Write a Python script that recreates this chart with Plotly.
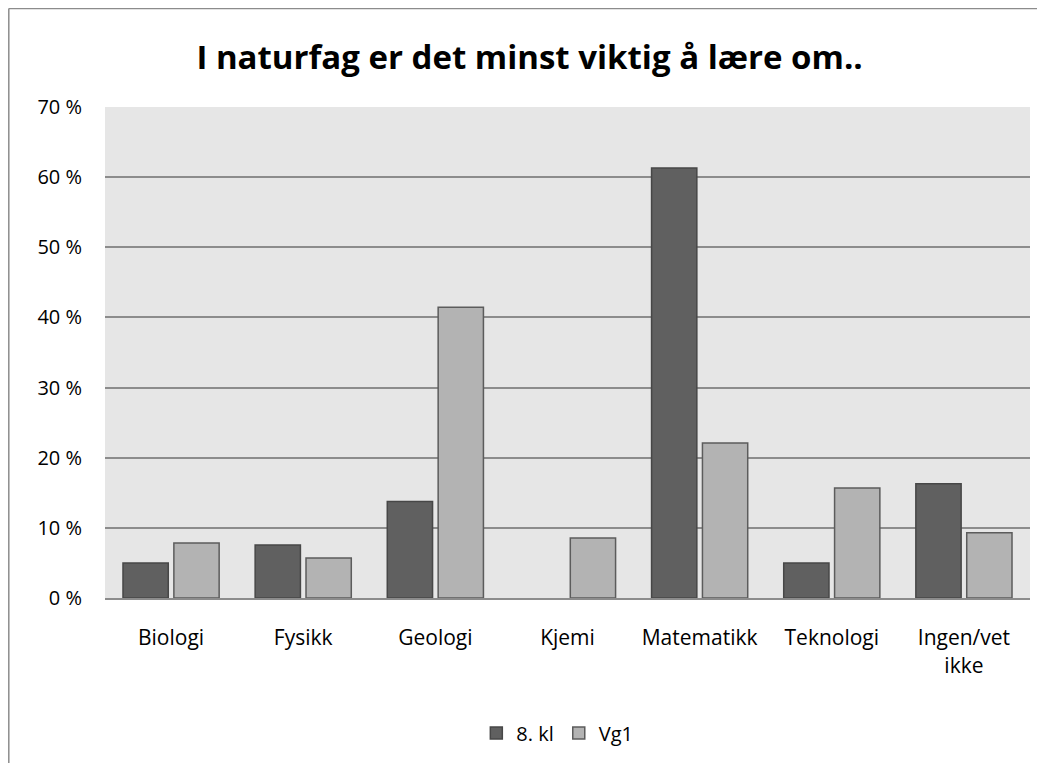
import plotly.graph_objects as go

categories = ["Biologi", "Fysikk", "Geologi", "Kjemi", "Matematikk", "Teknologi", "Ingen/vet<br>ikke"]
kl8 = [5.0, 7.55, 13.75, 0.0, 61.3, 5.0, 16.3]
vg1 = [7.85, 5.7, 41.45, 8.55, 22.1, 15.7, 9.3]
y_tickvals = [0, 10, 20, 30, 40, 50, 60, 70]
y_ticktext = ["0 %", "10 %", "20 %", "30 %", "40 %", "50 %", "60 %", "70 %"]
title_text = "I naturfag er det minst viktig å lære om.."

FONT = "Open Sans"

fig = go.Figure()
fig.add_trace(go.Bar(
    x=categories, y=kl8, name="8. kl",
    marker=dict(color="#606060",
                line=dict(color="#474747", width=[1.5 if v > 0 else 0 for v in kl8])),
))
fig.add_trace(go.Bar(
    x=categories, y=vg1, name="Vg1",
    marker=dict(color="#b3b3b3",
                line=dict(color="#5c5c5c", width=[1.5 if v > 0 else 0 for v in vg1])),
))

W, H = 1037, 755
fig.update_layout(
    width=W, height=H,
    margin=dict(l=97, r=15, t=99, b=165, autoexpand=False),
    paper_bgcolor="white",
    plot_bgcolor="#e6e6e6",
    barmode="group",
    bargap=0.23,
    bargroupgap=0.11,
    font=dict(family=FONT, color="#000000"),
    title=dict(
        text="<b>" + title_text + "</b>",
        font=dict(family=FONT, size=33, color="#000000"),
        x=0.459, xanchor="center", xref="paper",
        y=0.935, yanchor="middle", yref="container",
    ),
    showlegend=True,
    legend=dict(
        orientation="h", x=0.489, xanchor="center", y=-0.275, yanchor="middle",
        font=dict(family=FONT, size=20, color="#000000"),
        itemwidth=30, traceorder="normal", bgcolor="rgba(0,0,0,0)",
    ),
    xaxis=dict(
        showgrid=False, showline=True, linecolor="#8c8c8c", linewidth=2,
        ticks="", tickfont=dict(family=FONT, size=21, color="#000000"),
        ticklabelstandoff=20,
    ),
    yaxis=dict(
        range=[0, 70], tickvals=y_tickvals, ticktext=y_ticktext,
        showgrid=True, gridcolor="#8c8c8c", gridwidth=1.5,
        zeroline=False, showline=False, ticks="",
        tickfont=dict(family=FONT, size=20, color="#000000"),
        ticklabelstandoff=22,
    ),
    shapes=[
        dict(type="line", xref="paper", yref="paper", x0=-0.104, x1=1.1, y0=1.2006, y1=1.2006,
             line=dict(color="#8c8c8c", width=1.5)),
        dict(type="line", xref="paper", yref="paper", x0=-0.104, x1=-0.104, y0=1.2006, y1=-0.5,
             line=dict(color="#8c8c8c", width=1.5)),
    ],
)

fig.write_html("out.html")
